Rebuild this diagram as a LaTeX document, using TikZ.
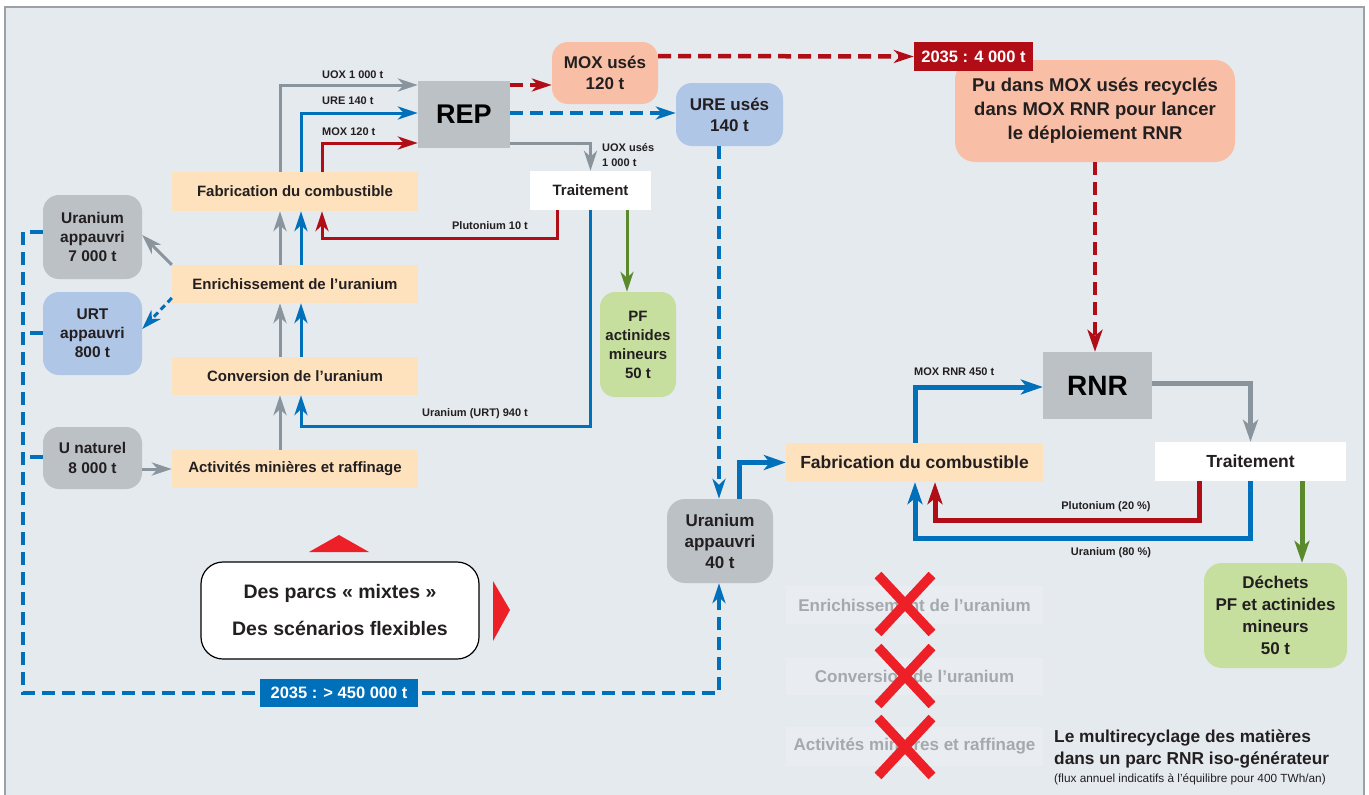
\documentclass[tikz,border=0pt]{standalone}
\usepackage{fontspec}
\setmainfont{Liberation Sans}
\usetikzlibrary{arrows.meta,calc}
\definecolor{bgc}{HTML}{E5EAEF}
\definecolor{framec}{HTML}{9BA1A6}
\definecolor{grayb}{HTML}{BCC1C6}
\definecolor{peach}{HTML}{FEE2BE}
\definecolor{salmon}{HTML}{F9BFA6}
\definecolor{lblue}{HTML}{AFC6E6}
\definecolor{lgreen}{HTML}{C6DF9F}
\definecolor{garrow}{HTML}{8A949C}
\definecolor{barrow}{HTML}{0070BA}
\definecolor{rarrow}{HTML}{B00D17}
\definecolor{vgreen}{HTML}{5A8A2A}
\definecolor{xred}{HTML}{EE2027}
\definecolor{txt}{HTML}{231F20}
\definecolor{ghostt}{HTML}{A4A9AE}
\definecolor{ghostf}{HTML}{E9EDF1}
\newcommand{\fsz}[2]{\fontsize{#1}{#2}\selectfont}
\begin{document}
\begin{tikzpicture}[x=1pt,y=-1pt,
  bx/.style={inner sep=0pt, align=center, text=txt},
  proc/.style={bx, fill=peach, font=\bfseries\fsz{15}{18}, minimum width=246pt, minimum height=38pt},
  procb/.style={bx, fill=peach, font=\bfseries\fsz{17.5}{20}, minimum width=257pt, minimum height=39pt},
  ghost/.style={bx, fill=ghostf, text=ghostt, font=\bfseries\fsz{17}{20}, minimum width=257pt, minimum height=38pt},
  lbl/.style={inner sep=0pt, text=txt, font=\bfseries\fsz{11}{15}},
  tipa/.style={-{Stealth[length=20pt,width=13pt,inset=6pt]}},
  tipb/.style={-{Stealth[length=22pt,width=15pt,inset=6pt]}},
  garr/.style={draw=garrow, line width=3pt, tipa},
  barr/.style={draw=barrow, line width=3pt, tipa},
  rarr/.style={draw=rarrow, line width=3pt, tipa},
  varr/.style={draw=vgreen, line width=3pt, tipa},
  garrb/.style={draw=garrow, line width=5pt, tipb},
  barrb/.style={draw=barrow, line width=5pt, tipb},
  rarrb/.style={draw=rarrow, line width=5pt, tipb},
  varrb/.style={draw=vgreen, line width=5pt, tipb},
  dsh/.style={dash pattern=on 13pt off 7pt},
]
\useasboundingbox (0,0) rectangle (1369,795);
\fill[white] (0,0) rectangle (1369,795);
\draw[framec, fill=bgc, line width=1.5pt] (5,7) rectangle (1364,805);

% --- left column of processes
\node[proc, minimum height=39pt] (fab1) at (295,191.5) {Fabrication du combustible};
\node[proc] (enr) at (295,284) {Enrichissement de l’uranium};
\node[proc] (conv) at (295,376) {Conversion de l’uranium};
\node[proc] (act) at (295,469) {Activités minières et raffinage};

\node[bx, fill=grayb, rounded corners=16pt, minimum width=99pt, minimum height=84pt, font=\bfseries\fsz{15.5}{19}] (ua7) at (92.5,237) {Uranium\\appauvri\\7 000 t};
\node[bx, fill=lblue, rounded corners=16pt, minimum width=99pt, minimum height=83pt, font=\bfseries\fsz{15.5}{19}] (urt) at (92.5,333.5) {URT\\appauvri\\800 t};
\node[bx, fill=grayb, rounded corners=16pt, minimum width=99pt, minimum height=62pt, font=\bfseries\fsz{15.5}{20}] (unat) at (92.5,458) {U naturel\\8 000 t};

\node[bx, fill=grayb, minimum width=92pt, minimum height=67pt, font=\bfseries\fsz{27}{30}, text=black] (rep) at (464,114.5) {REP};
\node[bx, fill=salmon, rounded corners=16pt, minimum width=106pt, minimum height=62pt, font=\bfseries\fsz{17}{21}] (moxu) at (605,73) {MOX usés\\120 t};
\node[bx, fill=lblue, rounded corners=16pt, minimum width=107pt, minimum height=63pt, font=\bfseries\fsz{17}{21}] (ureu) at (729.5,114.5) {URE usés\\140 t};
\node[bx, fill=white, minimum width=121pt, minimum height=39pt, font=\bfseries\fsz{15}{18}] (trt1) at (590.5,190.5) {Traitement};
\node[bx, fill=lgreen, rounded corners=15pt, minimum width=76pt, minimum height=105pt, font=\bfseries\fsz{15}{19}] (pf) at (638,344.5) {PF\\actinides\\mineurs\\50 t};

% --- right part
\node[bx, fill=salmon, rounded corners=20pt, minimum width=280pt, minimum height=102pt, font=\bfseries\fsz{18.5}{24}] (pu) at (1095,111) {Pu dans MOX usés recyclés\\dans MOX RNR pour lancer\\le déploiement RNR};
\node[bx, fill=rarrow, text=white, minimum width=119pt, minimum height=29pt, font=\bfseries\fsz{16.5}{19}] (l4000) at (973.5,56.5) {2035 : 4 000 t};
\node[bx, fill=grayb, minimum width=109pt, minimum height=67pt, font=\bfseries\fsz{28}{30}, text=black] (rnr) at (1097.5,385.5) {RNR};
\node[procb] (fab2) at (914.5,462.5) {Fabrication du combustible};
\node[bx, fill=white, minimum width=191pt, minimum height=39pt, font=\bfseries\fsz{17.5}{20}] (trt2) at (1250.5,461.5) {Traitement};
\node[bx, fill=lgreen, rounded corners=18pt, minimum width=143pt, minimum height=105pt, font=\bfseries\fsz{17}{22}] (dech) at (1275.5,615.5) {Déchets\\PF et actinides\\mineurs\\50 t};
\node[bx, fill=grayb, rounded corners=18pt, minimum width=106pt, minimum height=84pt, font=\bfseries\fsz{17}{21}] (ua40) at (720,541) {Uranium\\appauvri\\40 t};

\node[bx, fill=white, draw=black, line width=1.2pt, rounded corners=22pt, minimum width=278pt, minimum height=97pt, font=\bfseries\fsz{19.5}{37}] (mixte) at (340,610.5) {Des parcs « mixtes »\\Des scénarios flexibles};

% --- connectors, REP part
\draw[garr] (fab1.north -| 280,0) |- (rep.west |- 0,85);
\draw[barr] (fab1.north -| 301,0) |- (rep.west |- 0,113);
\draw[rarr] (fab1.north -| 322,0) |- (rep.west |- 0,143);
\node[lbl, anchor=west] (luox) at (322,75) {UOX 1 000 t};
\node[lbl, anchor=west] (lure) at (322,101) {URE 140 t};
\node[lbl, anchor=west] (lmox) at (322,132) {MOX 120 t};

\draw[garr] (enr.north -| 280,0) -- (fab1.south -| 280,0);
\draw[barr] (enr.north -| 301,0) -- (fab1.south -| 301,0);
\draw[garr] (conv.north -| 280,0) -- (enr.south -| 280,0);
\draw[barr] (conv.north -| 301,0) -- (enr.south -| 301,0);
\draw[garr] (act.north -| 280,0) -- (conv.south -| 280,0);

\draw[garr] (enr.north west) -- (ua7.east |- 0,235);
\draw[barr, dash pattern=on 6pt off 4pt] (enr.west |- 0,298) -- (urt.east |- 0,329);
\draw[garr] (unat.east |- 0,469) -- (act.west |- 0,469);

\draw[rarr, dsh, line width=4.5pt] (rep.east |- 0,85) -- (moxu.west |- 0,85);
\draw[barr, dsh, line width=4.5pt] (rep.east |- 0,113) -- (ureu.west |- 0,113);
\draw[garr] (rep.east |- 0,143) -| (trt1.north);
\node[lbl, anchor=west, align=left] (luoxu) at (602,155) {UOX usés\\1 000 t};

\draw[varr] (trt1.south -| 627,0) -- (pf.north -| 627,0);
\draw[rarr] (trt1.south -| 557,0) |- (322,238) -- (fab1.south -| 322,0);
\node[lbl] (lpu) at (490,226) {Plutonium 10 t};
\draw[barr] (trt1.south) |- (301,426) -- (conv.south -| 301,0);
\node[lbl] (lurt) at (475,414) {Uranium (URT) 940 t};

\draw[rarr, dsh, line width=4.5pt] (moxu.east |- 0,56) -- (l4000.west);
\draw[rarrb, dsh, line width=4.5pt] (pu.south) -- (pu.south |- rnr.north);

\draw[barr, dsh, line width=4.5pt] (ureu.south -| 719,0) -- (ua40.north -| 719,0);
\draw[barrb] (ua40.north -| 739,0) |- (fab2.west);

% --- RNR part
\draw[barrb] (fab2.north -| 915,0) |- (rnr.west |- 0,387);
\node[lbl, anchor=west] (lmoxrnr) at (914,372) {MOX RNR 450 t};
\draw[garrb] (rnr.east |- 0,383) -| (trt2.north);
\draw[rarrb] (trt2.south -| 1199,0) |- (935,520) -- (fab2.south -| 935,0);
\node[lbl] (lpu20) at (1106,507) {Plutonium (20 \%)};
\draw[barrb] (trt2.south) |- (915,538) -- (fab2.south -| 915,0);
\node[lbl] (lu80) at (1111,553) {Uranium (80 \%)};
\draw[varrb] (trt2.south -| 1302,0) -- (dech.north -| 1302,0);

% --- long dashed return
\coordinate (bl) at (23,693);
\draw[barr, dsh, line width=4.5pt] (ua7.west |- 0,232) -| (bl) -| (ua40.south -| 719,0);
\draw[draw=barrow, dsh, line width=4.5pt] (urt.west |- 0,333) -- (bl |- 0,333);
\draw[draw=barrow, dsh, line width=4.5pt] (unat.west |- 0,457) -- (bl |- 0,457);
\node[bx, fill=barrow, text=white, minimum width=158pt, minimum height=28pt, font=\bfseries\fsz{16.5}{19}] (l450) at (339,693) {2035 : > 450 000 t};

% --- red triangles
\fill[xred] (309,552) -- (339,535) -- (369,552) -- cycle;
\fill[xred] (493,581) -- (510,610) -- (493,641) -- cycle;

% --- ghost (removed) steps
\node[ghost] (g1) at (914.5,605) {Enrichissement de l’uranium};
\node[ghost, minimum height=37pt] (g2) at (914.5,676.5) {Conversion de l’uranium};
\node[ghost, minimum height=39pt] (g3) at (914.5,746.5) {Activités minières et raffinage};
\foreach \cy in {604,676,747}{
  \draw[xred, line width=9.5pt] (878,\cy-29) -- (932,\cy+29);
  \draw[xred, line width=9.5pt] (932,\cy-29) -- (878,\cy+29);
}

% --- caption
\node[anchor=base west, inner sep=0pt, text=txt, font=\bfseries\fsz{17.3}{20}] (n1) at (1054,742) {Le multirecyclage des matières};
\node[anchor=base west, inner sep=0pt, text=txt, font=\bfseries\fsz{17.3}{20}] (n2) at (1054,764) {dans un parc RNR iso-générateur};
\node[anchor=base west, inner sep=0pt, text=txt, font=\fsz{11.8}{13}] (n3) at (1054,782) {(flux annuel indicatifs à l’équilibre pour 400 TWh/an)};
\end{tikzpicture}
\end{document}
